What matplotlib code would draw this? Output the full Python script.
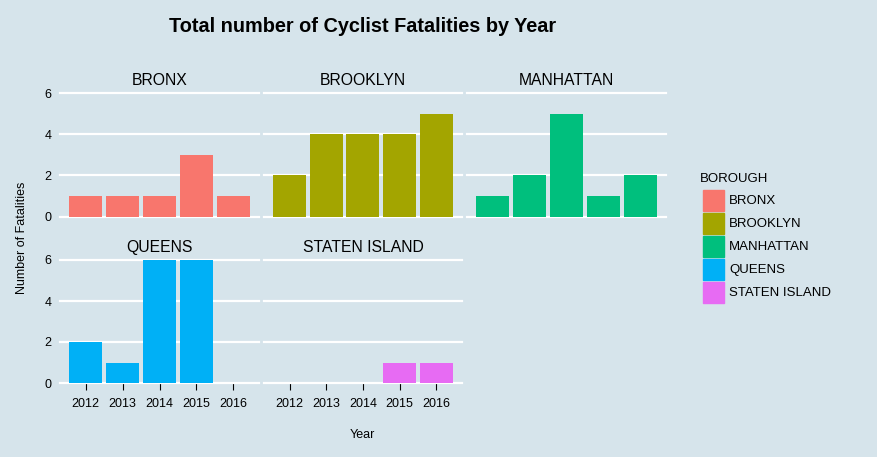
import numpy as np
import matplotlib
matplotlib.use("Agg")
import matplotlib.pyplot as plt
from matplotlib.patches import Rectangle

plt.rcParams['font.family'] = ['Liberation Sans', 'DejaVu Sans']

years = ['2012', '2013', '2014', '2015', '2016']
boroughs = ['BRONX', 'BROOKLYN', 'MANHATTAN', 'QUEENS', 'STATEN ISLAND']
bronx = [1, 1, 1, 3, 1]
brooklyn = [2, 4, 4, 4, 5]
manhattan = [1, 2, 5, 1, 2]
queens = [2, 1, 6, 6, 0]
staten_island = [0, 0, 0, 1, 1]
colors = ['#F8766D', '#A3A500', '#00BF7D', '#00B0F6', '#E76BF3']

values = [bronx, brooklyn, manhattan, queens, staten_island]

bg = '#D6E4EB'
W, H = 877, 457
fig = plt.figure(figsize=(W / 100, H / 100), dpi=100, facecolor=bg)

def px_axes(x0, y0, x1, y1):
    return fig.add_axes([x0 / W, 1 - y1 / H, (x1 - x0) / W, (y1 - y0) / H])

cols = [(60, 259), (264, 462), (467, 666)]
rows = [(93, 216.7), (260, 383)]

x = np.arange(len(years))
for i, name in enumerate(boroughs):
    r, c = divmod(i, 3)
    ax = px_axes(cols[c][0], rows[r][0], cols[c][1], rows[r][1])
    ax.set_facecolor(bg)
    for s in ax.spines.values():
        s.set_visible(False)
    ax.set_ylim(0, 6)
    ax.set_xlim(-0.7, 4.7)
    ax.set_yticks([0, 2, 4, 6])
    ax.grid(axis='y', color='white', linewidth=1.6, zorder=0)
    ax.set_axisbelow(True)
    for gl in ax.get_ygridlines():
        gl.set_clip_on(False)
    ax.bar(x, values[i], width=0.9, color=colors[i], zorder=2)
    ax.set_title(name, fontsize=11.3, color='black', pad=6)
    ax.tick_params(axis='y', length=0, labelsize=9, pad=6, colors='black')
    if c != 0:
        ax.tick_params(axis='y', labelleft=False)
    ax.set_xticks(x)
    if r == 1:
        ax.set_xticklabels(years)
        ax.tick_params(axis='x', length=5, width=0.8, labelsize=9, pad=6, colors='black')
    else:
        ax.tick_params(axis='x', length=0, labelbottom=False)

fig.text(363 / W, 1 - 26 / H, 'Total number of Cyclist Fatalities by Year',
         ha='center', va='center', fontsize=14.3, fontweight='bold')
fig.text(362 / W, 1 - 435 / H, 'Year', ha='center', va='center', fontsize=9)
fig.text(22 / W, 1 - 238 / H, 'Number of Fatalities', ha='center', va='center',
         fontsize=9, rotation=90)

# legend
fig.text(700 / W, 1 - 179 / H, 'BOROUGH', ha='left', va='center', fontsize=9.5)
for k, name in enumerate(boroughs):
    top = 190 + k * 23
    fig.patches.append(Rectangle((703 / W, 1 - (top + 21) / H), 21 / W, 21 / H,
                                 transform=fig.transFigure, color=colors[k]))
    fig.text(729 / W, 1 - (top + 11) / H, name, ha='left', va='center', fontsize=9.5)

fig.savefig('out.png', dpi=100, facecolor=bg)
